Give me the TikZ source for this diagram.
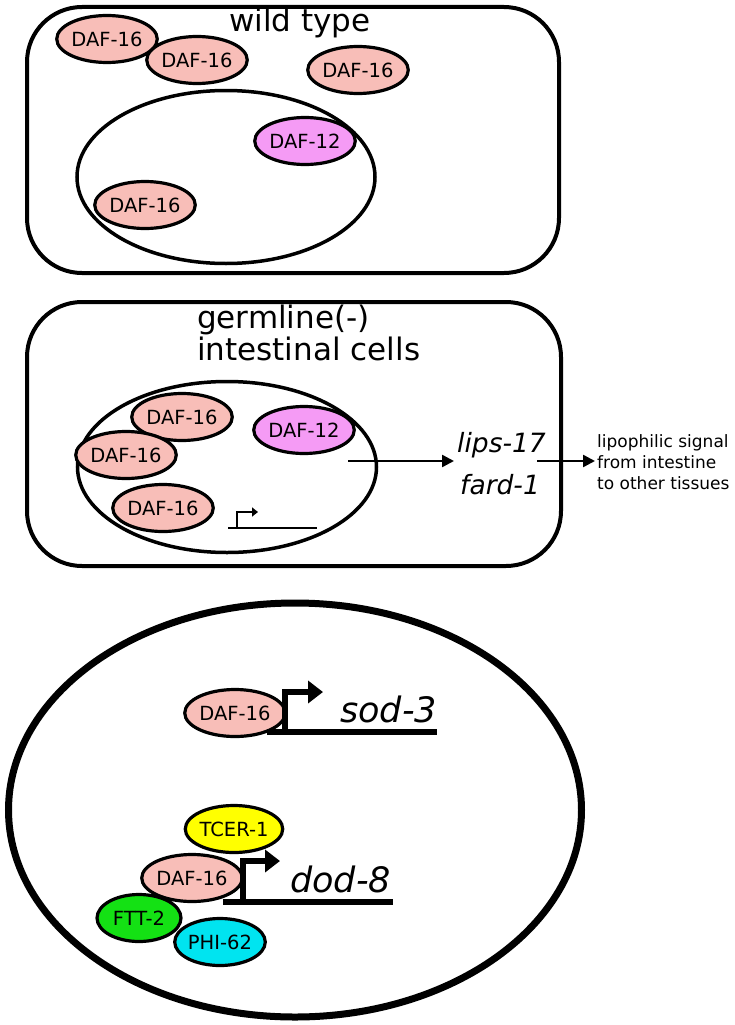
\documentclass[tikz,border=0pt]{standalone}
\usepackage{fontspec}
\setmainfont{DejaVu Sans}
\usetikzlibrary{shapes.geometric,arrows.meta}
\definecolor{dafpink}{RGB}{248,190,184}
\definecolor{dafviolet}{RGB}{245,155,245}
\definecolor{tceryellow}{RGB}{255,255,0}
\definecolor{fttgreen}{RGB}{20,225,20}
\definecolor{phicyan}{RGB}{0,228,240}
\tikzset{
 prot/.style={ellipse, draw, line width=3.2pt, minimum width=84pt, minimum height=47pt, inner sep=0pt, font=\fontsize{19.5pt}{22pt}\selectfont},
 panel/.style={draw, line width=4pt, rounded corners=55pt},
 nucleus/.style={ellipse, draw, line width=3.5pt, inner sep=0pt},
 title/.style={anchor=base west, inner sep=0pt, font=\fontsize{31pt}{36pt}\selectfont},
 gene/.style={anchor=base west, inner sep=0pt, font=\fontsize{26.5pt}{30pt}\selectfont\itshape},
 biggene/.style={anchor=base west, inner sep=0pt, font=\fontsize{35pt}{40pt}\selectfont\itshape},
 note/.style={anchor=base west, inner sep=0pt, font=\fontsize{17pt}{20pt}\selectfont},
 flow/.style={line width=2.5pt, -{Triangle[length=12pt,width=12pt]}},
 promthin/.style={line width=2.5pt},
 promthinarrow/.style={line width=2.5pt, -{Triangle[length=6pt,width=9pt]}},
 promthick/.style={line width=6pt},
 promthickarrow/.style={line width=6pt, line join=miter, -{Triangle[length=15pt,width=22pt]}},
}
\begin{document}
\begin{tikzpicture}[x=1pt,y=-1pt]
\useasboundingbox (0,0) rectangle (734,1025);
% ---------- panel 1: wild type ----------
\draw[panel] (27,7) rectangle (559,273);
\node[title] (wt) at (229,32) {wild type};
\node[nucleus, minimum width=298pt, minimum height=173pt] (nuc1) at (226,177) {};
\node[prot, fill=dafpink] (d1a) at (107,39) {DAF-16};
\node[prot, fill=dafpink] (d1b) at (197,60) {DAF-16};
\node[prot, fill=dafpink] (d1c) at (358,70) {DAF-16};
\node[prot, fill=dafviolet] (d12a) at (305,141) {DAF-12};
\node[prot, fill=dafpink] (d1d) at (145,205) {DAF-16};
% ---------- panel 2: germline(-) ----------
\draw[panel] (27,302) rectangle (561,566);
\node[title] (gl1) at (197,328) {germline(-)};
\node[title] (gl2) at (197,360) {intestinal cells};
\node[nucleus, minimum width=299pt, minimum height=171pt] (nuc2) at (227,467) {};
\node[prot, fill=dafpink] (d2a) at (182,417) {DAF-16};
\node[prot, fill=dafpink] (d2b) at (126,455) {DAF-16};
\node[prot, fill=dafpink] (d2c) at (163,508) {DAF-16};
\node[prot, fill=dafviolet] (d12b) at (304,430) {DAF-12};
\coordinate (p2l) at (228,528);
\coordinate (p2r) at (317,528);
\coordinate (p2b) at (237,528);
\coordinate (p2t) at (237,512);
\coordinate (p2a) at (258,512);
\draw[promthin] (p2l) -- (p2r);
\draw[promthinarrow] (p2b) -- (p2t) -- (p2a);
\node[gene] (lips) at (457,452) {lips-17};
\node[gene] (fard) at (460,494) {fard-1};
\coordinate (a1s) at (348,461);
\coordinate (a1e) at (454,461);
\draw[flow] (a1s) -- (a1e);
\coordinate (a2s) at (537,461);
\coordinate (a2e) at (595,461);
\draw[flow] (a2s) -- (a2e);
\node[note] (n1) at (597,447) {lipophilic signal};
\node[note] (n2) at (597,468) {from intestine};
\node[note] (n3) at (597,489) {to other tissues};
% ---------- panel 3 ----------
\node[ellipse, draw, line width=7pt, inner sep=0pt, minimum width=573pt, minimum height=414pt] (cell3) at (295,810) {};
\node[prot, fill=dafpink] (d3a) at (235,713) {DAF-16};
\coordinate (s1l) at (267,732);
\coordinate (s1r) at (437,732);
\coordinate (s1b) at (285,732);
\coordinate (s1t) at (285,692);
\coordinate (s1a) at (323,692);
\draw[promthick] (s1l) -- (s1r);
\draw[promthickarrow] (s1b) -- (s1t) -- (s1a);
\node[biggene] (sod) at (340,722) {sod-3};
\node[prot, fill=tceryellow] (tcer) at (234,829) {TCER-1};
\node[prot, fill=dafpink] (d3b) at (192,878) {DAF-16};
\node[prot, fill=fttgreen] (ftt) at (139,918) {FTT-2};
\node[prot, fill=phicyan] (phi) at (220,942) {PHI-62};
\coordinate (s2l) at (223,902);
\coordinate (s2r) at (393,902);
\coordinate (s2b) at (243,902);
\coordinate (s2t) at (243,861);
\coordinate (s2a) at (280,861);
\draw[promthick] (s2l) -- (s2r);
\draw[promthickarrow] (s2b) -- (s2t) -- (s2a);
\node[biggene] (dod) at (290,892) {dod-8};
\end{tikzpicture}
\end{document}
